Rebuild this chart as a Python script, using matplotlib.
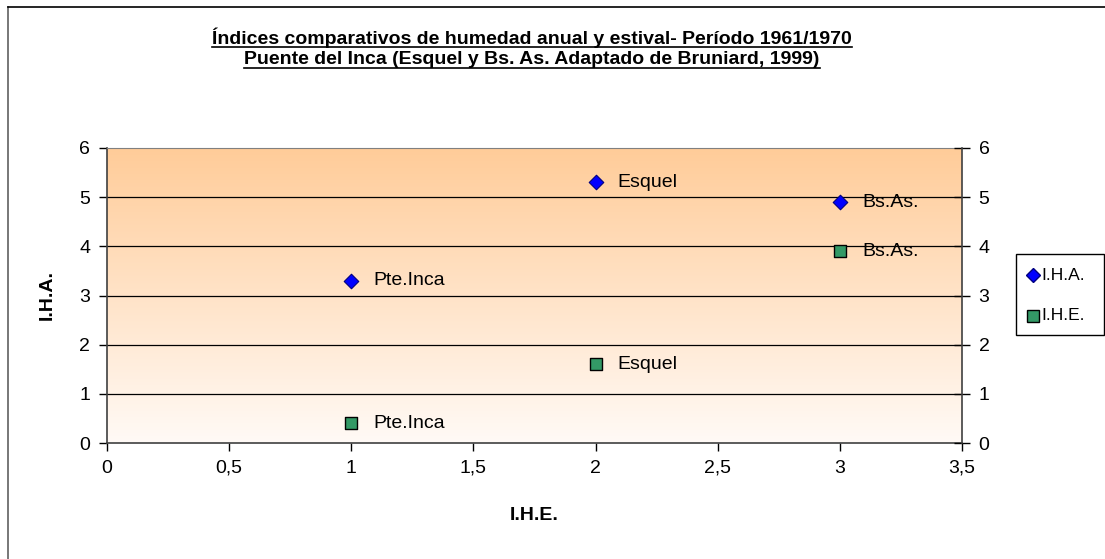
import matplotlib.pyplot as plt
import matplotlib.lines as mlines
import matplotlib.patches as mpatches
import numpy as np

plt.rcParams['font.family'] = ['Liberation Sans', 'DejaVu Sans']

# data
stations = ['Pte.Inca', 'Esquel', 'Bs.As.']
x_vals = [1, 2, 3]
iha = [3.3, 5.3, 4.9]
ihe = [0.4, 1.6, 3.9]
x_ticks = [0, 0.5, 1, 1.5, 2, 2.5, 3, 3.5]
x_tick_labels = ['0', '0,5', '1', '1,5', '2', '2,5', '3', '3,5']
y_ticks = [0, 1, 2, 3, 4, 5, 6]

W, H = 1105, 559
fig = plt.figure(figsize=(W / 100, H / 100), dpi=100)
fig.patch.set_facecolor('white')
ax = fig.add_axes([107 / W, 1 - 443 / H, (962 - 107) / W, (443 - 148) / H])

# gradient background
top = np.array([255, 204, 153]) / 255
bot = np.array([255, 250, 246]) / 255
t = np.linspace(0, 1, 256)[:, None]
grad = (bot * (1 - t) + top * t)[:, None, :]
ax.imshow(grad, extent=[0, 3.5, 0, 6], origin='lower', aspect='auto', zorder=0)

for yy in y_ticks[1:-1]:
    ax.axhline(yy, color='black', lw=0.9, zorder=1)

ax.scatter(x_vals, iha, marker='D', s=55, color='#0000FF', edgecolor='#000080',
           linewidth=0.8, zorder=4)
ax.scatter(x_vals, ihe, marker='s', s=85, color='#339966', edgecolor='black',
           linewidth=1.0, zorder=4)
for xv, a, e, name in zip(x_vals, iha, ihe, stations):
    ax.annotate(name, (xv, a), xytext=(16, 0), textcoords='offset points',
                va='center', ha='left', fontsize=14)
    ax.annotate(name, (xv, e), xytext=(16, 0), textcoords='offset points',
                va='center', ha='left', fontsize=14)

ax.set_xlim(0, 3.5)
ax.set_ylim(0, 6)
ax.set_xticks(x_ticks)
ax.set_xticklabels(x_tick_labels, fontsize=14)
ax.set_yticks(y_ticks)
ax.tick_params(axis='y', labelsize=14, direction='out', length=6, width=1, pad=6)
ax.tick_params(axis='x', direction='out', length=6, width=1, pad=6)
for s in ['left', 'bottom']:
    ax.spines[s].set_color('#404040')
    ax.spines[s].set_linewidth(1.2)
ax.spines['top'].set_color('#808080')
ax.spines['right'].set_visible(False)

ax2 = ax.twinx()
ax2.set_ylim(0, 6)
ax2.set_yticks(y_ticks)
ax2.tick_params(axis='y', labelsize=14, direction='inout', length=12, width=1, pad=6)
for s in ['left', 'bottom', 'top']:
    ax2.spines[s].set_visible(False)
ax2.spines['right'].set_color('#404040')
ax2.spines['right'].set_linewidth(1.2)

ax.set_xlabel('I.H.E.', fontsize=14, fontweight='bold')
ax.set_ylabel('I.H.A.', fontsize=14, fontweight='bold')
ax.xaxis.set_label_coords(0.5, (443 - 516) / 295, transform=ax.transAxes)
ax.yaxis.set_label_coords((47 - 107) / 855, 0.5, transform=ax.transAxes)
ax.xaxis.label.set_va('center')
ax.yaxis.label.set_va('center')

# title with underline
t1 = fig.text(532 / W, 1 - 38 / H, 'Índices comparativos de humedad anual y estival- Período 1961/1970',
              ha='center', va='center', fontsize=14, fontweight='bold')
t2 = fig.text(532 / W, 1 - 60 / H, 'Puente del Inca (Esquel y Bs. As. Adaptado de Bruniard, 1999)',
              ha='center', va='center', fontsize=14, fontweight='bold')
fig.canvas.draw()
r = fig.canvas.get_renderer()
for tt in (t1, t2):
    bb = tt.get_window_extent(r)
    yl = (bb.y0 + 1) / H
    fig.add_artist(mlines.Line2D([bb.x0 / W, bb.x1 / W], [yl, yl], color='black', lw=1.2))

# outer border
fig.add_artist(mlines.Line2D([8 / W, 8 / W], [0, 1 - 7 / H], color='#606060', lw=1.2))
fig.add_artist(mlines.Line2D([8 / W, 1], [1 - 7 / H, 1 - 7 / H], color='black', lw=1.2))

# legend box
fig.add_artist(mpatches.Rectangle((1016 / W, 1 - 335 / H), (1104 - 1016) / W, (335 - 254) / H,
                                  facecolor='white', edgecolor='black', lw=1.0))
leg_items = [('I.H.A.', 'D', '#0000FF', '#000080', 7, 275),
             ('I.H.E.', 's', '#339966', 'black', 9, 316)]
for lab, mk, fc, ec, ms, yy in leg_items:
    fig.add_artist(mlines.Line2D([1033 / W], [1 - yy / H], marker=mk, ls='none',
                                 color=fc, mec=ec, ms=ms))
    fig.text(1041 / W, 1 - yy / H, lab, ha='left', va='center', fontsize=12.5)

fig.savefig('out.png', dpi=100, facecolor='white')
